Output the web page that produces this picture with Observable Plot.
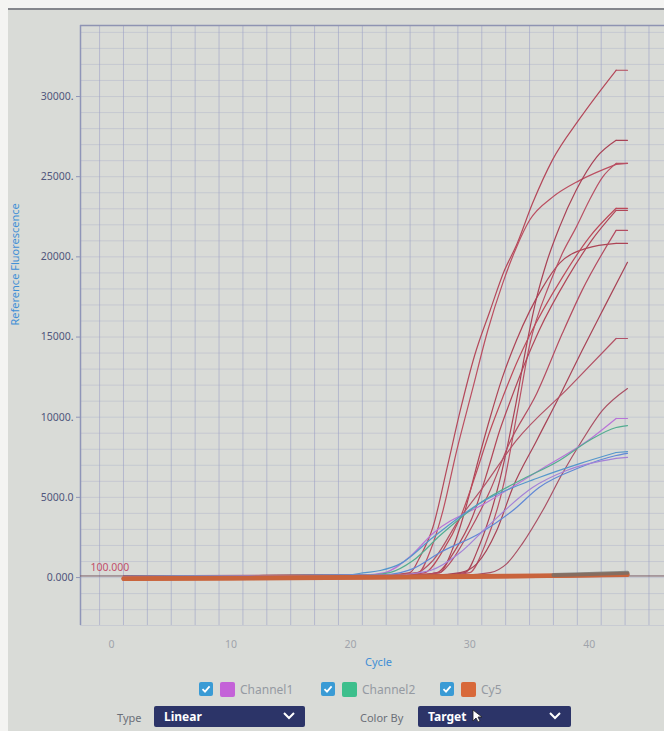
<!DOCTYPE html>
<html><head><meta charset="utf-8">
<script src="https://cdn.jsdelivr.net/npm/d3@7"></script>
<script src="https://cdn.jsdelivr.net/npm/@observablehq/plot@0.6"></script>
<style>
html,body{margin:0;padding:0;background:#f4f4f2;width:664px;height:731px;overflow:hidden;font-family:"Noto Sans",sans-serif;}
#screen{position:absolute;left:8px;top:8px;width:656px;height:723px;background:#d9dbd7;border-top:2px solid #85878c;box-sizing:border-box;}
#chart{position:absolute;left:0;top:0;}
.lg{position:absolute;top:681px;height:16px;display:flex;align-items:center;font-size:12px;color:#959aa2;white-space:nowrap;}
.cb{width:14px;height:14px;border-radius:2px;background:#3a9bd5;display:flex;align-items:center;justify-content:center;margin-right:7px;}
.sw{width:15px;height:15px;border-radius:2px;margin-right:5px;}
.lbl{position:absolute;top:710px;font-size:11px;color:#6b6f78;}
.dd{position:absolute;top:706px;height:21px;background:#2c3468;border-radius:2px;color:#fff;font-weight:bold;font-size:12px;line-height:21px;padding-left:10px;box-sizing:border-box;}
.dd svg{position:absolute;right:10px;top:6px;}
</style></head><body>
<div id="screen"></div>
<div id="chart"></div>
<div id="legend"></div>
<div id="controls"></div>
<script>
// ---- data ----
const xTicks = [0, 10, 20, 30, 40];
const yTicks = [0, 5000, 10000, 15000, 20000, 25000, 30000];
const yTickLabels = ["0.000", "5000.0", "10000.", "15000.", "20000.", "25000.", "30000."];
const threshold = 100;
const thresholdLabel = "100.000";

// red amplification curves [cycle, fluorescence]
const red1 = [[1,60],[23,150],[25,310],[25.8,1250],[26.9,3120],[28.1,6860],[29.2,10420],[30.4,13850],[31.7,16660],[32.9,19160],[33.9,20720],[35.25,23340],[36.9,26020],[39.2,28620],[42.25,31640],[43.2,31640]];
const red2 = [[1,80],[23.7,160],[25.7,310],[26.7,1690],[27.75,4180],[28.9,7920],[30.2,11670],[31.5,15410],[32.75,18350],[33.9,20590],[35,22280],[36.9,23710],[39.2,24770],[42.25,25770],[43.2,25830]];
const red3 = [[1,70],[25.5,170],[27.5,310],[28.5,1680],[29.6,4180],[30.7,7300],[31.7,9980],[32.7,12420],[33.9,14790],[35,16600],[36.1,18100],[37.5,19590],[39.75,20530],[42.25,20840],[43.2,20840]];
const red4 = [[1,90],[27.6,170],[29.6,310],[30.8,2000],[32.5,6050],[33.75,10420],[34.75,14500],[35.6,17470],[36.4,19590],[37.5,21840],[38.9,24150],[40.6,26210],[42.25,27270],[43.2,27270]];
const red5 = [[1,60],[28,150],[30,310],[31.25,2000],[32.9,6050],[34,10420],[35,14480],[36.7,18350],[37.75,20220],[38.9,21840],[40,23520],[41.1,24960],[42.25,25830],[43.2,25830]];
const red6 = [[1,90],[24.5,160],[26.25,310],[27.75,1680],[29.2,3740],[30.6,6680],[31.7,9170],[32.75,11230],[33.9,13350],[35,15100],[37.75,18720],[40,21220],[42.25,23030],[43.2,23030]];
const red7 = [[1,50],[25.5,140],[27.25,310],[28.75,1680],[30.2,3740],[31.5,6680],[32.5,9170],[33.5,11230],[34.6,13350],[35.8,15410],[38.2,18720],[40.2,21030],[42.25,22900],[43.2,22900]];
const red8 = [[1,100],[25.5,180],[27.5,310],[28.3,870],[30,2930],[31.7,5430],[33.3,8360],[35.6,11480],[37.75,15230],[39.4,17910],[42.25,21650],[43.2,21650]];
const red9 = [[1,70],[27,160],[29.2,310],[30.6,870],[32.25,2930],[33.6,5620],[35.6,8550],[37.75,11670],[39.4,14160],[41.25,16850],[43.2,19660]];
const red10 = [[1,80],[23.5,170],[25.6,310],[26.9,1060],[29.2,3740],[31.1,5620],[33.9,8550],[38.3,11860],[42.25,14910],[43.2,14910]];
const red11 = [[1,60],[29.5,150],[31.7,310],[33.1,870],[34.4,2120],[36.1,4180],[37.75,6490],[39.4,8550],[41.1,10420],[43.2,11790]];

// lower-plateau curves
const channel1 = [[1,60],[21,150],[22.9,310],[25,1310],[26.9,2750],[31.4,4680],[35.8,6680],[40.25,8740],[42.25,9920],[43.2,9920]];
const channel2 = [[1,80],[21.5,160],[23.3,310],[25.25,1060],[27.5,2620],[30.8,4620],[34.2,6050],[37.5,7300],[40,8550],[42.25,9360],[43.2,9480]];
const blue1 = [[1,50],[19.5,150],[21.25,310],[22.5,440],[24.2,870],[26.9,2500],[30.8,4620],[35.8,6240],[39.2,7110],[42.25,7800],[43.2,7860]];
const blue2 = [[1,70],[22.5,150],[24.2,310],[25.25,560],[27.5,1560],[30.8,2750],[33.6,4180],[35.8,5620],[39.2,6860],[42.25,7610],[43.2,7740]];
const blue3 = [[1,60],[24,150],[25.8,310],[26.7,440],[29.2,1560],[31.4,3120],[35.25,5620],[38.1,6680],[42.25,7430],[43.2,7490]];

// flat Cy5 baselines and the grey tail at the end
const cy5a = [[1,-70],[10,-40],[20,0],[30,60],[38,120],[43.2,190]];
const cy5b = [[1,-40],[10,-10],[20,30],[30,90],[38,150],[43.2,230]];
const cy5c = [[1,-90],[15,-50],[30,40],[43.2,160]];
const greyTail = [[37,160],[40,220],[43.2,300]];

const curveIds = ["r1","r2","r3","r4","r5","r6","r7","r8","r9","r10","r11","c1","c2","b1","b2","b3"];
const curvePts = [red1,red2,red3,red4,red5,red6,red7,red8,red9,red10,red11,channel1,channel2,blue1,blue2,blue3];
const curveColors = ["#b4485a","#bb4e60","#ad4456","#a94255","#b85064","#bc4a5a","#b14658","#b44c60","#a84356","#b35266","#aa5064","#b874d8","#52ad90","#5597cc","#6088d6","#a482d8"];

const legendNames = ["Channel1", "Channel2", "Cy5"];
const legendColors = ["#c462d8", "#3dbf8c", "#d8693a"];
const typeValue = "Linear";
const colorByValue = "Target";

// ---- build rows: smooth body; a flat final plateau is drawn as a straight segment ----
const toRows = (id, pts) => pts.map(([c, v]) => ({id, cycle: c, value: v}));
const isPlateau = pts => Math.abs(pts[pts.length - 1][1] - pts[pts.length - 2][1]) < 100;
const bodyRows = curveIds.flatMap((id, i) => toRows(id, isPlateau(curvePts[i]) ? curvePts[i].slice(0, -1) : curvePts[i]));
const endRows = curveIds.flatMap((id, i) => isPlateau(curvePts[i]) ? toRows(id, curvePts[i].slice(-2)) : []);
const baseRows = [["a", cy5a], ["b", cy5b], ["c", cy5c]].flatMap(([id, pts]) => toRows(id, pts));
const tailRows = toRows("t", greyTail);
const labelMap = new Map(yTicks.map((t, i) => [t, yTickLabels[i]]));

const xDomain = [-2.6, 46.3];
const yDomain = [-2990, 34430];

const chart = Plot.plot({
  width: 664, height: 672,
  marginLeft: 80, marginRight: 0, marginTop: 25, marginBottom: 47,
  style: {background: "transparent", fontFamily: "Noto Sans, sans-serif", overflow: "visible"},
  x: {domain: xDomain},
  y: {domain: yDomain},
  color: {domain: curveIds, range: curveColors},
  marks: [
    Plot.gridY({ticks: d3.range(-2000, 35000, 1000), stroke: "#b4b8cc", strokeOpacity: 0.5}),
    Plot.gridX({ticks: d3.range(-1, 47, 2), stroke: "#9ca2c6", strokeOpacity: 0.6}),
    Plot.ruleY([yDomain[1]], {stroke: "#8e93b2", strokeWidth: 1.5}),
    Plot.ruleY([yDomain[0]], {stroke: "#c8cbd2", strokeWidth: 1}),
    Plot.ruleX([xDomain[0]], {stroke: "#8f95b8", strokeWidth: 1.5}),
    Plot.axisY(yTicks, {tickFormat: d => labelMap.get(d), tickSize: 4, tickPadding: 3, fill: "#50567c", stroke: "#8f95b8", fontSize: 10.5, label: null}),
    Plot.axisX(xTicks, {tickSize: 0, tickPadding: 15, fill: "#a0a4ab", fontSize: 10.5, label: null}),
    Plot.ruleY([threshold], {stroke: "#7a5d68", strokeWidth: 1}),
    Plot.text([thresholdLabel], {text: d => d, y: threshold, frameAnchor: "left", dx: 10, dy: -8, textAnchor: "start", fill: "#c2506a", fontSize: 10.5}),
    Plot.line(bodyRows, {x: "cycle", y: "value", z: "id", stroke: "id", strokeWidth: 1.2, curve: "monotone-x"}),
    Plot.line(endRows, {x: "cycle", y: "value", z: "id", stroke: "id", strokeWidth: 1.2}),
    Plot.line(baseRows, {x: "cycle", y: "value", z: "id", stroke: "#c9643c", strokeWidth: 4, curve: "monotone-x"}),
    Plot.line(tailRows, {x: "cycle", y: "value", stroke: "#6f706c", strokeWidth: 4, strokeOpacity: 0.75, curve: "monotone-x"}),
    Plot.text(["Reference Fluorescence"], {text: d => d, frameAnchor: "left", dx: -65, rotate: -90, fill: "#3f8fd6", fontSize: 11}),
    Plot.text(["Cycle"], {text: d => d, frameAnchor: "bottom", dy: 37, dx: 6, lineAnchor: "middle", fill: "#3f8fd6", fontSize: 11})
  ]
});
document.getElementById("chart").appendChild(chart);

// ---- legend ----
const legendLefts = [199, 321, 440];
const check = '<svg width="10" height="10" viewBox="0 0 10 10"><polyline points="1.5,5.2 4,7.6 8.6,2.4" fill="none" stroke="#fff" stroke-width="1.8"/></svg>';
const lg = document.getElementById("legend");
legendNames.forEach((n, i) => {
  const d = document.createElement("div");
  d.className = "lg";
  d.style.left = legendLefts[i] + "px";
  d.innerHTML = `<span class="cb">${check}</span><span class="sw" style="background:${legendColors[i]}"></span><span>${n}</span>`;
  lg.appendChild(d);
});

// ---- controls ----
const chevron = '<svg width="12" height="8" viewBox="0 0 12 8"><polyline points="1,1 6,6 11,1" fill="none" stroke="#fff" stroke-width="2"/></svg>';
const cursor = '<svg width="10" height="14" viewBox="0 0 10 14" style="position:static;vertical-align:-2px;margin-left:6px"><path d="M1,1 L1,12 L4,9 L6,13 L8,12 L6,8 L10,8 Z" fill="#fff" stroke="#222" stroke-width="0.8"/></svg>';
const ctl = document.getElementById("controls");
ctl.innerHTML = `
<div class="lbl" style="left:117px">Type</div>
<div class="dd" style="left:154px;width:151px">${typeValue}${chevron}</div>
<div class="lbl" style="left:360px">Color By</div>
<div class="dd" style="left:418px;width:153px">${colorByValue}${cursor}${chevron}</div>`;
</script>
</body></html>
